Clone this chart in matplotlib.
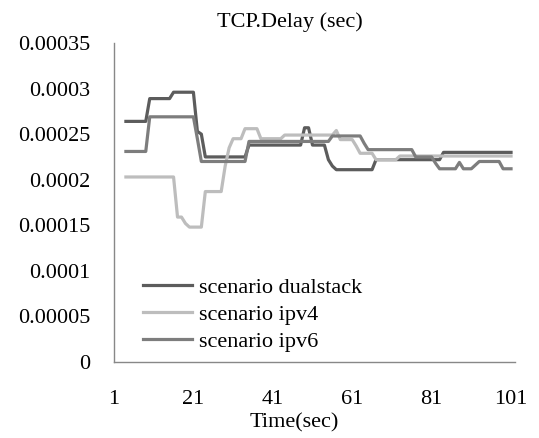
import matplotlib
matplotlib.use("Agg")
import matplotlib.pyplot as plt

plt.rcParams['font.family'] = ['Liberation Serif', 'DejaVu Serif']

# time axis (seconds) for the plotted samples
time_s = list(range(4, 102))

# TCP delay per scenario (sec), one value per second from t=4 to t=101
dualstack = [
    0.000264, 0.000264, 0.000264, 0.000264, 0.000264, 0.000264,
    0.000289, 0.000289, 0.000289, 0.000289, 0.000289, 0.000289,
    0.000296, 0.000296, 0.000296, 0.000296, 0.000296, 0.000296,
    0.000253, 0.000250,
    0.000225, 0.000225, 0.000225, 0.000225, 0.000225, 0.000225,
    0.000225, 0.000225, 0.000225, 0.000225, 0.000225,
    0.000238, 0.000238, 0.000238, 0.000238, 0.000238, 0.000238, 0.000238,
    0.000238, 0.000238, 0.000238, 0.000238, 0.000238, 0.000238, 0.000238,
    0.000257, 0.000257,
    0.000238, 0.000238, 0.000238, 0.000238,
    0.000222, 0.000215,
    0.000211, 0.000211, 0.000211, 0.000211, 0.000211,
    0.000211, 0.000211, 0.000211, 0.000211, 0.000211,
    0.000222, 0.000222, 0.000222, 0.000222, 0.000222, 0.000222,
    0.000222, 0.000222, 0.000222, 0.000222, 0.000222, 0.000222,
    0.000222, 0.000222, 0.000222, 0.000222, 0.000222,
    0.000230, 0.000230, 0.000230, 0.000230, 0.000230, 0.000230,
    0.000230, 0.000230, 0.000230, 0.000230, 0.000230, 0.000230,
    0.000230, 0.000230, 0.000230, 0.000230, 0.000230, 0.000230,
]

ipv4 = [
    0.000203, 0.000203, 0.000203, 0.000203, 0.000203, 0.000203, 0.000203,
    0.000203, 0.000203, 0.000203, 0.000203, 0.000203, 0.000203,
    0.000159, 0.000159, 0.000152,
    0.000148, 0.000148, 0.000148, 0.000148,
    0.000187, 0.000187, 0.000187, 0.000187, 0.000187,
    0.000215, 0.000235,
    0.000245, 0.000245, 0.000245,
    0.000256, 0.000256, 0.000256, 0.000256,
    0.000245, 0.000245, 0.000245, 0.000245, 0.000245, 0.000245,
    0.000249, 0.000249, 0.000249, 0.000249, 0.000249, 0.000249, 0.000249,
    0.000249, 0.000249, 0.000249, 0.000249, 0.000249, 0.000249,
    0.000254,
    0.000244, 0.000244, 0.000244, 0.000244,
    0.000237,
    0.000229, 0.000229, 0.000229, 0.000229,
    0.000222, 0.000222, 0.000222, 0.000222, 0.000222, 0.000222,
    0.000226, 0.000226, 0.000226, 0.000226, 0.000226, 0.000226, 0.000226,
    0.000226, 0.000226, 0.000226, 0.000226, 0.000226, 0.000226, 0.000226,
    0.000226, 0.000226, 0.000226, 0.000226, 0.000226, 0.000226, 0.000226,
    0.000226, 0.000226, 0.000226, 0.000226, 0.000226, 0.000226, 0.000226,
    0.000226,
]

ipv6 = [
    0.000231, 0.000231, 0.000231, 0.000231, 0.000231, 0.000231,
    0.000269, 0.000269, 0.000269, 0.000269, 0.000269, 0.000269,
    0.000269, 0.000269, 0.000269, 0.000269, 0.000269, 0.000269,
    0.000245,
    0.000220, 0.000220, 0.000220, 0.000220, 0.000220, 0.000220,
    0.000220, 0.000220, 0.000220, 0.000220, 0.000220, 0.000220,
    0.000242, 0.000242, 0.000242, 0.000242, 0.000242, 0.000242, 0.000242,
    0.000242, 0.000242, 0.000242, 0.000242, 0.000242, 0.000242, 0.000242,
    0.000242, 0.000242, 0.000242, 0.000242, 0.000242, 0.000242, 0.000242,
    0.000248, 0.000248, 0.000248, 0.000248, 0.000248, 0.000248, 0.000248, 0.000248,
    0.000240,
    0.000233, 0.000233, 0.000233, 0.000233, 0.000233, 0.000233,
    0.000233, 0.000233, 0.000233, 0.000233, 0.000233, 0.000233,
    0.000225, 0.000225, 0.000225, 0.000225, 0.000225,
    0.000218,
    0.000212, 0.000212, 0.000212, 0.000212, 0.000212,
    0.000219,
    0.000212, 0.000212, 0.000212,
    0.000216,
    0.000220, 0.000220, 0.000220, 0.000220, 0.000220, 0.000220,
    0.000212, 0.000212, 0.000212,
]

series_names = ['scenario dualstack', 'scenario ipv4', 'scenario ipv6']
x_ticks = [1, 21, 41, 61, 81, 101]
y_ticks = [0, 0.00005, 0.0001, 0.00015, 0.0002, 0.00025, 0.0003, 0.00035]
y_tick_labels = ['0', '0.00005', '0.0001', '0.00015', '0.0002', '0.00025', '0.0003', '0.00035']

fig = plt.figure(figsize=(5.39, 4.38), dpi=100)
ax = fig.add_axes([114 / 539, 1 - 362 / 438, 401 / 539, 319 / 438])

ax.plot(time_s, dualstack, color='#5c5c5c', lw=2.3, label=series_names[0])
ax.plot(time_s, ipv4, color='#bdbdbd', lw=2.3, label=series_names[1])
ax.plot(time_s, ipv6, color='#7d7d7d', lw=2.3, label=series_names[2])

ax.set_xlim(1, 102)
ax.set_ylim(0, 0.00035)
ax.set_xticks(x_ticks)
ax.set_xticklabels([str(t) for t in x_ticks])
ax.set_yticks(y_ticks)
ax.set_yticklabels(y_tick_labels)
ax.tick_params(length=0, labelsize=16, colors='black')
ax.tick_params(axis='y', pad=17)
ax.tick_params(axis='x', pad=20)

for side in ['top', 'right']:
    ax.spines[side].set_visible(False)
for side in ['left', 'bottom']:
    ax.spines[side].set_color('#888888')
    ax.spines[side].set_linewidth(1.0)

ax.set_xlabel('Time(sec)', fontsize=16)
ax.xaxis.set_label_coords((294 - 114) / 401, -(423 - 362) / 319)
ax.xaxis.label.set_verticalalignment('center')

fig.text(290 / 539, 1 - 22 / 438, 'TCP.Delay (sec)', ha='center', va='center', fontsize=16)

ax.legend(loc='upper left', bbox_to_anchor=((143 - 114) / 401, (362 - 277) / 319),
          frameon=False, fontsize=16, handlelength=2.2, handletextpad=0.3,
          labelspacing=0.3, borderpad=0, borderaxespad=0)

fig.savefig('out.png', dpi=100)
